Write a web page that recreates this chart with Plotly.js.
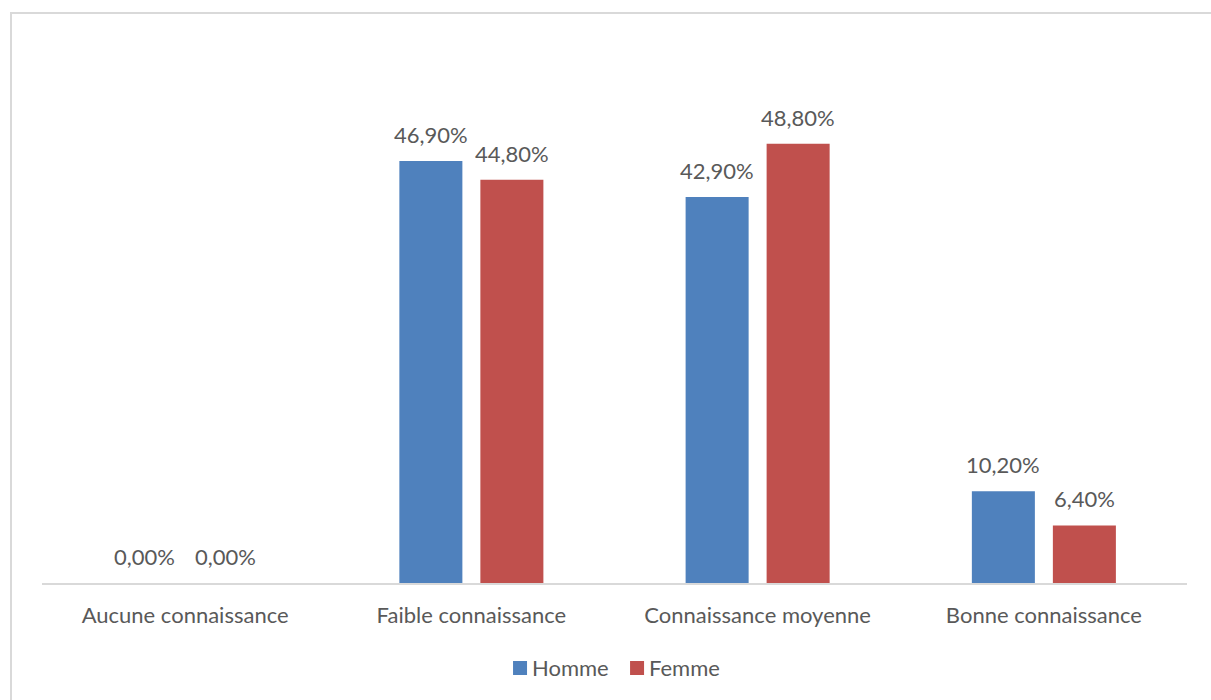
<!DOCTYPE html>
<html>
<head>
<meta charset="utf-8">
<script src="https://cdn.plot.ly/plotly-3.0.1.min.js"></script>
<style>
  html, body { margin: 0; padding: 0; background: #ffffff; overflow: hidden; }
  #frame { position: absolute; left: 10px; top: 12px; width: 1400px; height: 900px;
           border: 2px solid #d9d9d9; pointer-events: none; z-index: 5; }
  #chart { position: absolute; left: 0; top: 0; width: 1211px; height: 700px; }
</style>
</head>
<body>
<div id="chart"></div>
<div id="frame"></div>
<script>
// Niveau de connaissance par sexe (%)
const categories = ["Aucune connaissance", "Faible connaissance", "Connaissance moyenne", "Bonne connaissance"];
const seriesNames = ["Homme", "Femme"];
const homme = [0.0, 46.9, 42.9, 10.2];
const femme = [0.0, 44.8, 48.8, 6.4];

const colors = ['#4f81bd', '#c0504d'];
const fmt = v => v.toFixed(2).replace('.', ',') + '%';
const labelFont = { family: 'Lato, "Open Sans", sans-serif', size: 22, color: '#595959' };

const series = [homme, femme];
const traces = series.map((vals, i) => ({
  type: 'bar', name: seriesNames[i], x: categories, y: vals,
  marker: { color: colors[i] }, hoverinfo: 'skip', showlegend: false
}));

// value labels above each bar (offset to the bar's slot in the group)
const annotations = [];
series.forEach((vals, i) => {
  vals.forEach((v, j) => {
    annotations.push({
      xref: 'x', yref: 'y', x: categories[j], y: v,
      xshift: i === 0 ? -40.5 : 40.5, yshift: 11,
      xanchor: 'center', yanchor: 'bottom', showarrow: false,
      text: fmt(v), font: labelFont
    });
  });
});

// legend below the axis
const legendX = [0.4175, 0.5197];
const shapes = [];
seriesNames.forEach((name, i) => {
  shapes.push({
    type: 'rect', xref: 'paper', yref: 'paper',
    xsizemode: 'pixel', ysizemode: 'pixel',
    xanchor: legendX[i], yanchor: -0.1574,
    x0: -7, x1: 7, y0: -7, y1: 7,
    fillcolor: colors[i], line: { width: 0 }
  });
  annotations.push({
    xref: 'paper', yref: 'paper', x: legendX[i], y: -0.1574,
    xshift: 10, xanchor: 'left', yanchor: 'middle', showarrow: false,
    text: name, font: labelFont
  });
});

const layout = {
  width: 1211, height: 700,
  margin: { l: 42, r: 24, t: 43, b: 117 },
  paper_bgcolor: '#ffffff', plot_bgcolor: '#ffffff',
  barmode: 'group', bargap: 0.434, bargroupgap: 0.222,
  font: labelFont,
  xaxis: { showline: true, linecolor: '#d9d9d9', linewidth: 2, ticks: '',
           tickfont: labelFont, showgrid: false, zeroline: false, ticklabelstandoff: 12 },
  yaxis: { range: [0, 60], visible: false, showgrid: false, zeroline: false },
  showlegend: false,
  annotations: annotations,
  shapes: shapes
};

Plotly.newPlot('chart', traces, layout, { displayModeBar: false, staticPlot: true });
</script>
</body>
</html>
